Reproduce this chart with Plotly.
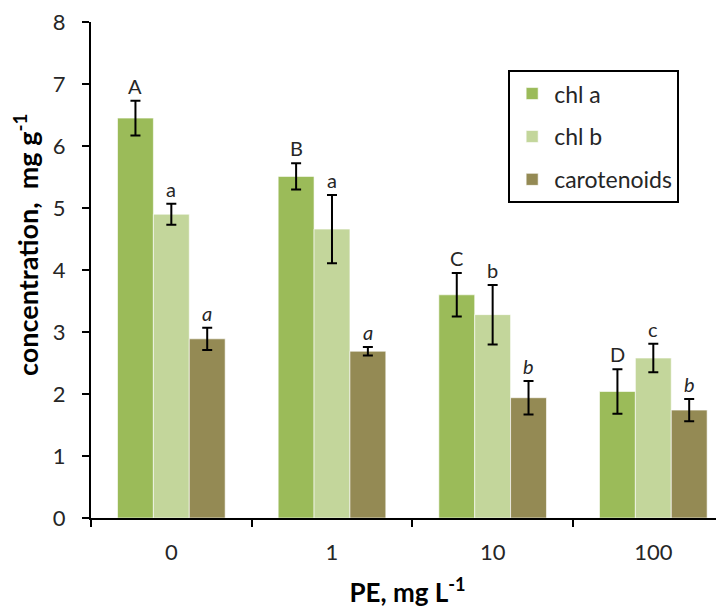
import plotly.graph_objects as go

categories = ["0", "1", "10", "100"]
series_names = ["chl a", "chl b", "carotenoids"]
chl_a = [6.45, 5.51, 3.60, 2.04]
chl_a_err = [0.28, 0.21, 0.35, 0.36]
chl_b = [4.90, 4.66, 3.28, 2.58]
chl_b_err = [0.17, 0.55, 0.48, 0.23]
carot = [2.89, 2.69, 1.94, 1.74]
carot_err = [0.18, 0.07, 0.27, 0.18]
letters_a = ["A", "B", "C", "D"]
letters_b = ["a", "a", "b", "c"]
letters_c = ["a", "a", "b", "b"]
colors = ["#9BBB59", "#C3D69B", "#948A54"]

FONT = "Lato"
TXT = "#262626"

fig = go.Figure()
vals = [chl_a, chl_b, carot]
errs = [chl_a_err, chl_b_err, carot_err]
for name, v, e, c in zip(series_names, vals, errs, colors):
    fig.add_trace(go.Bar(
        x=categories, y=v, name=name, legendgroup=name,
        marker=dict(color=c, line=dict(color="rgba(255,255,255,0.6)", width=1)),
        error_y=dict(type="data", array=e, color="black", thickness=2, width=5),
    ))

bargap = 0.33
bw = (1 - bargap) / 3
offsets = [-bw, 0, bw]
letter_sets = [letters_a, letters_b, letters_c]
for si in range(3):
    for ci in range(4):
        txt = letter_sets[si][ci]
        if si == 2:
            txt = "<i>" + txt + "</i>"
        fig.add_annotation(
            x=ci + offsets[si], y=vals[si][ci] + errs[si][ci],
            xref="x", yref="y", text=txt, showarrow=False,
            yanchor="bottom", yshift=1,
            font=dict(family=FONT, size=20, color=TXT),
        )

# y-axis title placed as rotated text (Excel places it slightly above centre)
fig.add_annotation(
    x=-0.103, y=0.55, xref="paper", yref="paper",
    text="<b>concentration,&nbsp; mg g<sup>-1</sup></b>", showarrow=False,
    textangle=-90, xanchor="center", yanchor="middle",
    font=dict(family=FONT, size=27, color="black"),
)

# the page adds an 8px body margin, so margins are offset accordingly
fig.update_layout(
    width=724, height=612,
    margin=dict(l=83, r=8, t=14, b=102),
    paper_bgcolor="white", plot_bgcolor="white",
    barmode="group", bargap=bargap, bargroupgap=0,
    font=dict(family=FONT, size=20, color=TXT),
    showlegend=True,
    legend=dict(
        x=0.659, y=0.903, xanchor="left", yanchor="top",
        bordercolor="black", borderwidth=2, bgcolor="white",
        font=dict(family=FONT, size=23, color=TXT),
        tracegroupgap=10, itemwidth=34,
    ),
)
fig.update_xaxes(
    type="category", range=[-0.5, 3.44], automargin=False,
    showline=True, linecolor="black", linewidth=2,
    ticks="outside", tickson="boundaries", ticklen=7, tickwidth=2, tickcolor="black",
    showgrid=False, zeroline=False, ticklabelstandoff=14,
    tickfont=dict(family=FONT, size=22, color=TXT),
    title=dict(text="<b>PE, mg L<sup>-1</sup></b>", font=dict(family=FONT, size=26, color="black"), standoff=19),
)
fig.update_yaxes(
    range=[0, 8], dtick=1, automargin=False, ticklabeloverflow="allow",
    showline=True, linecolor="black", linewidth=2,
    ticks="outside", ticklen=7, tickwidth=2, tickcolor="black",
    showgrid=False, zeroline=False, ticklabelstandoff=12,
    tickfont=dict(family=FONT, size=22, color=TXT),
)

fig.write_html("out.html")
